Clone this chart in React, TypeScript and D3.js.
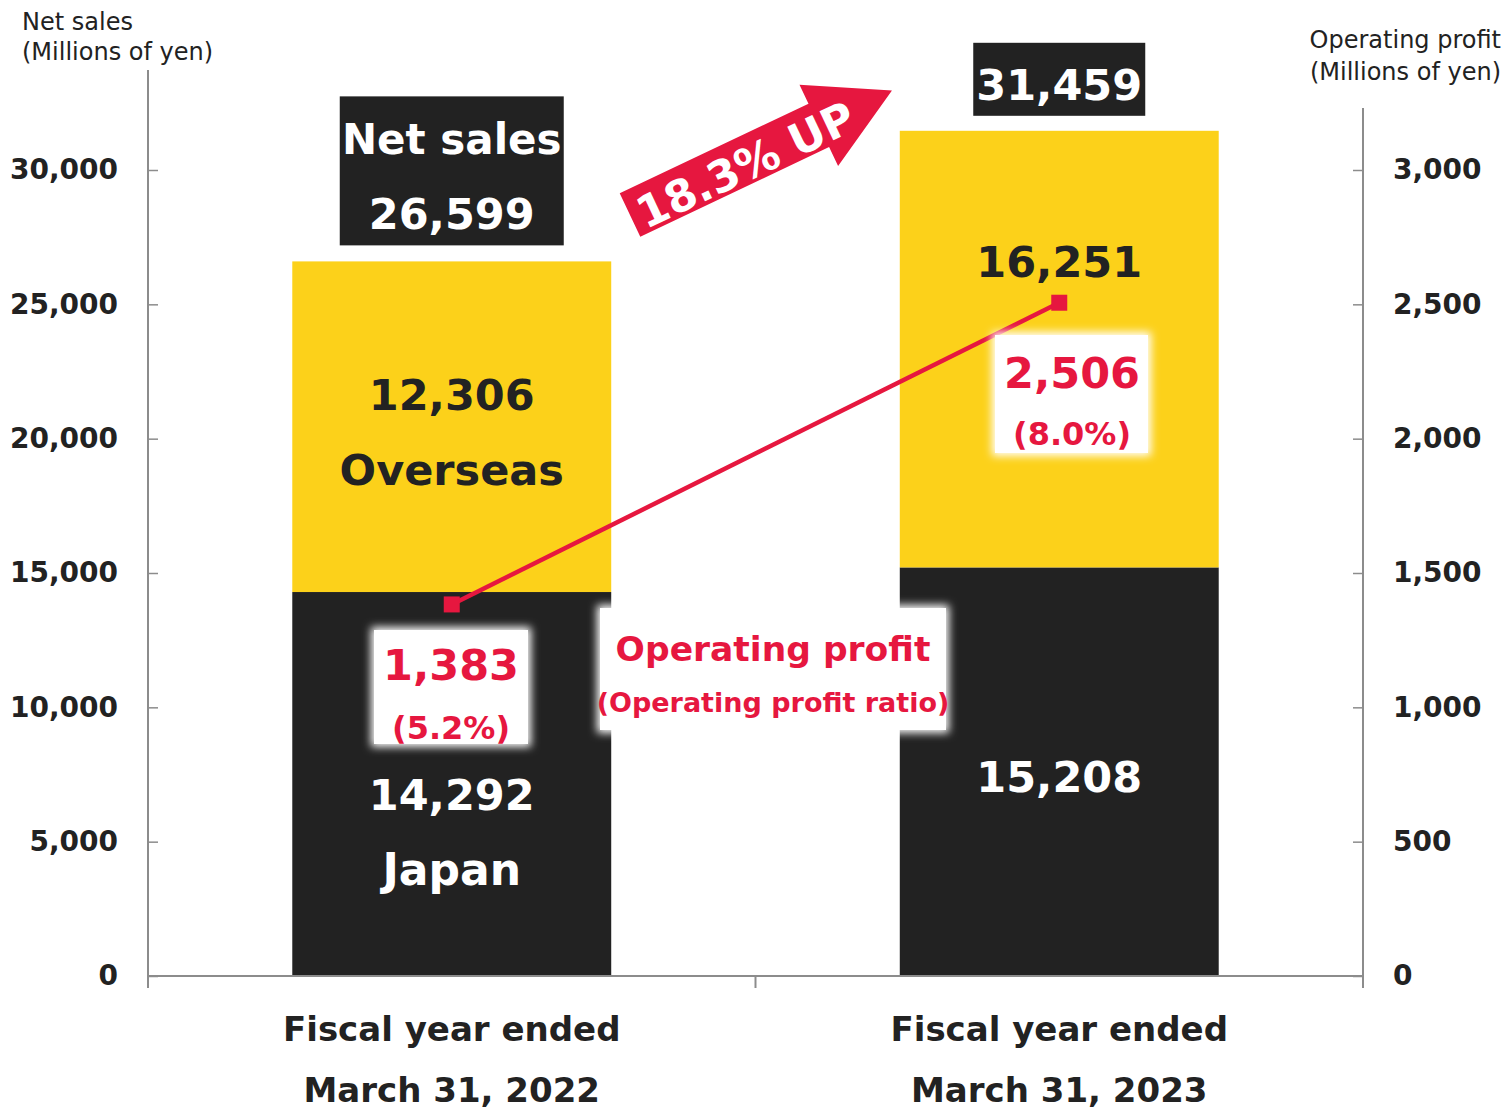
import React, { useEffect, useRef } from "react"
import * as d3 from "d3"

const categoryPrefix = "Fiscal year ended"
const fiscalYears = ["March 31, 2022", "March 31, 2023"]
const japanSales = [14292, 15208]
const overseasSales = [12306, 16251]
const netSales = [26599, 31459]
const operatingProfit = [1383, 2506]
const profitRatio = ["(5.2%)", "(8.0%)"]
const salesTicks = [0, 5000, 10000, 15000, 20000, 25000, 30000]
const profitTicks = [0, 500, 1000, 1500, 2000, 2500, 3000]
const growthLabel = "18.3% UP"

const W = 1506
const H = 1109
const FONT = "'DejaVu Sans', Verdana, sans-serif"
const RED = "#E6173F"
const YELLOW = "#FCD11A"
const BLACK = "#222222"
const AXIS = "#8c8c8c"

export default function App() {
  const ref = useRef<SVGSVGElement>(null)

  useEffect(() => {
    document.body.style.margin = "0"
    const svg = d3.select(ref.current)
    svg.selectAll("*").remove()

    const left = 148
    const right = 1363
    const bottom = 976
    const top = 170

    const x = d3
      .scaleBand<number>()
      .domain(d3.range(fiscalYears.length))
      .range([left, right])
      .paddingInner(0.475)
      .paddingOuter(0.2375)
    const y = d3.scaleLinear().domain([0, 30000]).range([bottom, top])
    const yR = d3.scaleLinear().domain([0, 3000]).range([bottom, top])
    const bw = x.bandwidth()
    const cx = (i: number) => (x(i) as number) + bw / 2

    // soft white glow for the label boxes
    const defs = svg.append("defs")
    defs
      .append("filter")
      .attr("id", "glow")
      .attr("x", "-20%")
      .attr("y", "-20%")
      .attr("width", "140%")
      .attr("height", "140%")
      .append("feGaussianBlur")
      .attr("stdDeviation", 4)

    // bars
    const bars = svg.append("g")
    bars
      .selectAll("rect.japan")
      .data(japanSales)
      .enter()
      .append("rect")
      .attr("class", "japan")
      .attr("x", (d, i) => x(i) as number)
      .attr("y", d => y(d))
      .attr("width", bw)
      .attr("height", d => bottom - y(d))
      .attr("fill", BLACK)
    bars
      .selectAll("rect.overseas")
      .data(overseasSales)
      .enter()
      .append("rect")
      .attr("class", "overseas")
      .attr("x", (d, i) => x(i) as number)
      .attr("y", (d, i) => y(japanSales[i] + d))
      .attr("width", bw)
      .attr("height", (d, i) => y(japanSales[i]) - y(japanSales[i] + d))
      .attr("fill", YELLOW)

    // left axis
    const gL = svg
      .append("g")
      .attr("transform", `translate(${left},0)`)
      .call(
        d3
          .axisLeft(y)
          .tickValues(salesTicks)
          .tickFormat(d3.format(","))
          .tickSize(-10)
          .tickPadding(30)
      )
    gL.select(".domain").remove()
    gL.selectAll("line").attr("stroke", AXIS).attr("stroke-width", 1.5)
    gL.selectAll("text")
      .attr("font-family", FONT)
      .attr("font-weight", "bold")
      .attr("font-size", 28)
      .attr("fill", BLACK)
    svg
      .append("line")
      .attr("x1", left)
      .attr("x2", left)
      .attr("y1", 70)
      .attr("y2", bottom + 12)
      .attr("stroke", AXIS)
      .attr("stroke-width", 2)

    // right axis
    const gR = svg
      .append("g")
      .attr("transform", `translate(${right},0)`)
      .call(
        d3
          .axisRight(yR)
          .tickValues(profitTicks)
          .tickFormat(d3.format(","))
          .tickSize(-10)
          .tickPadding(30)
      )
    gR.select(".domain").remove()
    gR.selectAll("line").attr("stroke", AXIS).attr("stroke-width", 1.5)
    gR.selectAll("text")
      .attr("font-family", FONT)
      .attr("font-weight", "bold")
      .attr("font-size", 28)
      .attr("fill", BLACK)
    svg
      .append("line")
      .attr("x1", right)
      .attr("x2", right)
      .attr("y1", 108)
      .attr("y2", bottom + 12)
      .attr("stroke", AXIS)
      .attr("stroke-width", 2)

    // x axis
    svg
      .append("line")
      .attr("x1", left)
      .attr("x2", right)
      .attr("y1", bottom)
      .attr("y2", bottom)
      .attr("stroke", AXIS)
      .attr("stroke-width", 2)
    svg
      .selectAll("line.xtick")
      .data(d3.range(fiscalYears.length + 1))
      .enter()
      .append("line")
      .attr("class", "xtick")
      .attr("x1", i => left + i * x.step())
      .attr("x2", i => left + i * x.step())
      .attr("y1", bottom)
      .attr("y2", bottom + 12)
      .attr("stroke", AXIS)
      .attr("stroke-width", 2)

    const xl = svg
      .selectAll("text.xlab")
      .data(fiscalYears)
      .enter()
      .append("text")
      .attr("class", "xlab")
      .attr("text-anchor", "middle")
      .attr("font-family", FONT)
      .attr("font-weight", "bold")
      .attr("font-size", 34)
      .attr("fill", BLACK)
    xl.append("tspan").attr("x", (d, i) => cx(i)).attr("y", 1041).text(categoryPrefix)
    xl.append("tspan").attr("x", (d, i) => cx(i)).attr("y", 1102).text(d => d)

    // axis titles
    const tl = svg
      .append("text")
      .attr("font-family", FONT)
      .attr("font-size", 24)
      .attr("fill", BLACK)
    tl.append("tspan").attr("x", 22).attr("y", 30).text("Net sales")
    tl.append("tspan").attr("x", 22).attr("y", 60).text("(Millions of yen)")
    const tr = svg
      .append("text")
      .attr("font-family", FONT)
      .attr("font-size", 24)
      .attr("fill", BLACK)
      .attr("text-anchor", "end")
    tr.append("tspan").attr("x", 1501).attr("y", 48).text("Operating profit")
    tr.append("tspan").attr("x", 1501).attr("y", 80).text("(Millions of yen)")

    const label = (
      tx: number,
      ty: number,
      text: string,
      size: number,
      fill: string,
      weight = "bold"
    ) =>
      svg
        .append("text")
        .attr("x", tx)
        .attr("y", ty)
        .attr("text-anchor", "middle")
        .attr("font-family", FONT)
        .attr("font-weight", weight)
        .attr("font-size", size)
        .attr("fill", fill)
        .text(text)

    // segment values
    label(cx(0), 410, d3.format(",")(overseasSales[0]), 43, BLACK)
    label(cx(0), 485, "Overseas", 43, BLACK)
    label(cx(1), y(netSales[1]) + 146, d3.format(",")(overseasSales[1]), 43, BLACK)
    label(cx(0), 810, d3.format(",")(japanSales[0]), 43, "#ffffff")
    label(cx(0), 885, "Japan", 44, "#ffffff")
    label(cx(1), 792, d3.format(",")(japanSales[1]), 43, "#ffffff")

    // net sales totals
    svg
      .append("rect")
      .attr("x", cx(0) - 112)
      .attr("y", y(netSales[0]) - 165)
      .attr("width", 224)
      .attr("height", 149)
      .attr("fill", BLACK)
    label(cx(0), y(netSales[0]) - 107, "Net sales", 42, "#ffffff")
    label(cx(0), y(netSales[0]) - 32, d3.format(",")(netSales[0]), 43, "#ffffff")
    svg
      .append("rect")
      .attr("x", cx(1) - 86)
      .attr("y", y(netSales[1]) - 88)
      .attr("width", 172)
      .attr("height", 73)
      .attr("fill", BLACK)
    label(cx(1), y(netSales[1]) - 31, d3.format(",")(netSales[1]), 43, "#ffffff")

    // operating profit line
    const pts = operatingProfit.map((d, i) => [cx(i), yR(d)] as [number, number])
    svg
      .append("path")
      .attr("d", d3.line()(pts))
      .attr("fill", "none")
      .attr("stroke", RED)
      .attr("stroke-width", 4.5)
    svg
      .selectAll("rect.marker")
      .data(pts)
      .enter()
      .append("rect")
      .attr("class", "marker")
      .attr("x", d => d[0] - 8)
      .attr("y", d => d[1] - 8)
      .attr("width", 16)
      .attr("height", 16)
      .attr("fill", RED)

    const whiteBox = (bx: number, by: number, w: number, h: number) => {
      svg
        .append("rect")
        .attr("x", bx - 3)
        .attr("y", by - 3)
        .attr("width", w + 6)
        .attr("height", h + 6)
        .attr("fill", "#ffffff")
        .attr("filter", "url(#glow)")
      svg
        .append("rect")
        .attr("x", bx)
        .attr("y", by)
        .attr("width", w)
        .attr("height", h)
        .attr("fill", "#ffffff")
    }

    // profit value boxes
    whiteBox(374, 630, 154, 114)
    label(451, 680, d3.format(",")(operatingProfit[0]), 43, RED)
    label(451, 739, profitRatio[0], 32, RED)
    whiteBox(995, 335, 153, 118)
    label(1072, 388, d3.format(",")(operatingProfit[1]), 43, RED)
    label(1072, 445, profitRatio[1], 32, RED)

    whiteBox(600, 608, 346, 122)
    label(773, 661, "Operating profit", 34.5, RED)
    label(773, 712, "(Operating profit ratio)", 27, RED)

    // growth arrow
    const arrow = svg
      .append("g")
      .attr("transform", "translate(630,215) rotate(-25.4)")
    arrow
      .append("path")
      .attr("d", "M0,-24 L209,-24 L209,-45 L290,0 L209,45 L209,24 L0,24 Z")
      .attr("fill", RED)
    arrow
      .append("text")
      .attr("x", 126)
      .attr("y", 4)
      .attr("dy", "0.36em")
      .attr("text-anchor", "middle")
      .attr("font-family", FONT)
      .attr("font-weight", "bold")
      .attr("font-size", 44)
      .attr("fill", "#ffffff")
      .text(growthLabel)
  }, [])

  return (
    <svg
      ref={ref}
      width={W}
      height={H}
      style={{ display: "block", background: "#ffffff" }}
    />
  )
}
